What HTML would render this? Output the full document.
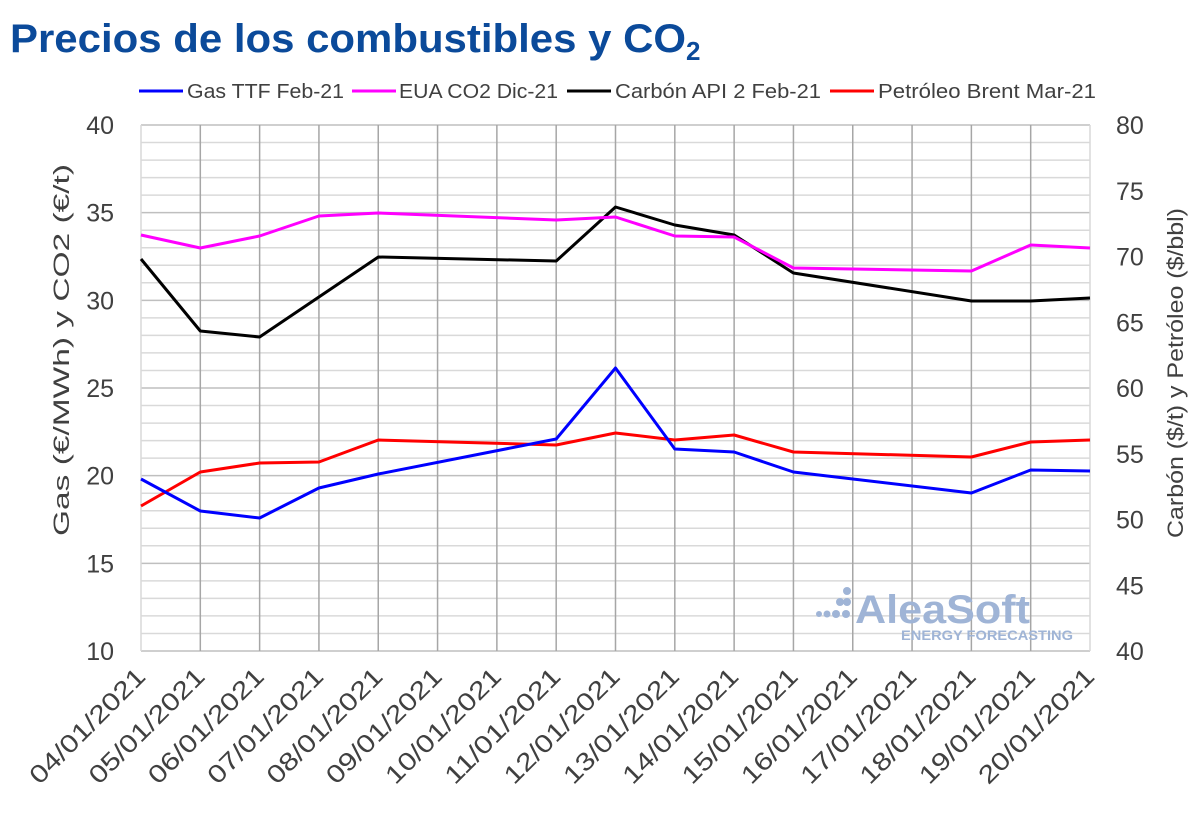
<!DOCTYPE html>
<html><head><meta charset="utf-8"><style>
html,body{margin:0;padding:0;background:#fff;}
svg{display:block;font-family:"Liberation Sans",sans-serif;}
</style></head><body>
<svg width="1200" height="831" viewBox="0 0 1200 831" xmlns="http://www.w3.org/2000/svg">
<text x="10" y="52" font-size="40" font-weight="bold" fill="#0b4a9a" textLength="676" lengthAdjust="spacingAndGlyphs">Precios de los combustibles y CO</text>
<text x="686" y="60" font-size="26" font-weight="bold" fill="#0b4a9a">2</text>
<g font-size="20" fill="#404040">
<line x1="139" y1="91" x2="183" y2="91" stroke="#0000ff" stroke-width="3"/>
<text x="187" y="98" textLength="157" lengthAdjust="spacingAndGlyphs">Gas TTF Feb-21</text>
<line x1="352" y1="91" x2="396" y2="91" stroke="#ff00ff" stroke-width="3"/>
<text x="399" y="98" textLength="159" lengthAdjust="spacingAndGlyphs">EUA CO2 Dic-21</text>
<line x1="567" y1="91" x2="611" y2="91" stroke="#000" stroke-width="3"/>
<text x="615" y="98" textLength="206" lengthAdjust="spacingAndGlyphs">Carbón API 2 Feb-21</text>
<line x1="830" y1="91" x2="874" y2="91" stroke="#ff0000" stroke-width="3"/>
<text x="878" y="98" textLength="218" lengthAdjust="spacingAndGlyphs">Petróleo Brent Mar-21</text>
</g>
<g id="grid"></g>
<g font-size="25" fill="#404040" id="labels"></g>
<text transform="translate(69,350) rotate(-90)" text-anchor="middle" font-size="22" fill="#404040" textLength="372" lengthAdjust="spacingAndGlyphs">Gas (€/MWh) y CO2 (€/t)</text>
<text transform="translate(1183,373) rotate(-90)" text-anchor="middle" font-size="22" fill="#404040" textLength="330" lengthAdjust="spacingAndGlyphs">Carbón ($/t) y Petróleo ($/bbl)</text>
<g fill="#9fb4d6">
<circle cx="847" cy="591" r="4"/><circle cx="840" cy="602" r="4"/><circle cx="847" cy="602" r="4"/>
<circle cx="819" cy="614" r="3"/><circle cx="827" cy="614" r="3.5"/><circle cx="836" cy="614" r="4"/><circle cx="846" cy="614" r="4"/>
<text x="855" y="623" font-size="40" font-weight="bold" textLength="175" lengthAdjust="spacingAndGlyphs">AleaSoft</text>
<text x="901" y="640" font-size="14" font-weight="bold" textLength="172" lengthAdjust="spacingAndGlyphs">ENERGY FORECASTING</text>
</g>
<g id="series" fill="none" stroke-width="3" stroke-linejoin="round"></g>
<script>
var ns="http://www.w3.org/2000/svg";
function el(p,t,a,txt){var e=document.createElementNS(ns,t);for(var k in a)e.setAttribute(k,a[k]);if(txt)e.textContent=txt;p.appendChild(e);return e;}
var g=document.getElementById('grid'),L=document.getElementById('labels'),S=document.getElementById('series');
var x0=141,x1=1090,yt=125,yb=651,dx=(x1-x0)/16,dy=(yb-yt)/30;
for(var i=0;i<=30;i++){var y=yb-i*dy;el(g,'line',{x1:x0,x2:x1,y1:y,y2:y,stroke:i%5==0?'#bfbfbf':'#d9d9d9','stroke-width':1.5});}
for(var i=0;i<=16;i++){var x=x0+i*dx;el(g,'line',{x1:x,x2:x,y1:yt,y2:yb,stroke:(i==0||i==16)?'#d9d9d9':'#a6a6a6','stroke-width':1.5});}
for(var i=0;i<=6;i++){var y=yb-i*5*dy+9;el(L,'text',{x:114,y:y,'text-anchor':'end'},String(10+5*i));}
for(var i=0;i<=8;i++){var y=yb-i*(yb-yt)/8+9;el(L,'text',{x:1116,y:y},String(40+5*i));}
for(var i=0;i<17;i++){var x=x0+i*dx;var d=(4+i<10?'0':'')+(4+i)+'/01/2021';el(L,'text',{transform:'translate('+(x+6)+',678) rotate(-45)','text-anchor':'end',textLength:152,lengthAdjust:'spacingAndGlyphs'},d);}
function line(pts,c){var s=pts.map(function(p){return (x0+p[0]*dx).toFixed(1)+','+p[1];}).join(' ');el(S,'polyline',{points:s,stroke:c});}
line([[0,506],[1,472],[2,463],[3,462],[4,440],[7,445],[8,433],[9,440],[10,435],[11,452],[14,457],[15,442],[16,440]],'#ff0000');
line([[0,259],[1,331],[2,337],[3,297],[4,257],[7,261],[8,207],[9,225],[10,235],[11,273],[14,301],[15,301],[16,298]],'#000000');
line([[0,235],[1,248],[2,236],[3,216],[4,213],[7,220],[8,217],[9,236],[10,237],[11,268],[14,271],[15,245],[16,248]],'#ff00ff');
line([[0,479],[1,511],[2,518],[3,488],[4,474],[7,439],[8,368],[9,449],[10,452],[11,472],[14,493],[15,470],[16,471]],'#0000ff');
</script>
</svg>
</body></html>
